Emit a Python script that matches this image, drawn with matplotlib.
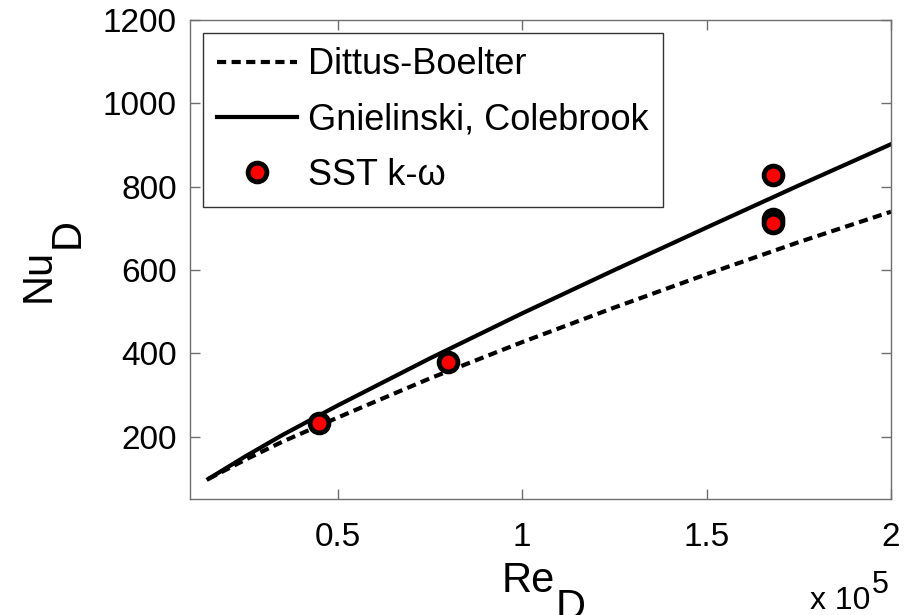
import matplotlib
matplotlib.use("Agg")
import matplotlib.pyplot as plt

# ----------------------------
# Data (Re in units of 1e5)
# ----------------------------

re_line = [0.15, 0.25, 0.35, 0.5, 0.75, 1.0, 1.25, 1.5, 1.75, 2.0]
nu_dittus = [99, 145, 188, 246, 340, 427, 510, 590, 667, 740]
nu_gnielinski = [99, 153, 204, 275, 388, 496, 600, 702, 803, 902]

re_sst = [0.45, 0.80, 1.68, 1.68, 1.68]
nu_sst = [233, 380, 828, 722, 714]

xticks = [0.5, 1, 1.5, 2]
xtick_labels = ["0.5", "1", "1.5", "2"]
yticks = [200, 400, 600, 800, 1000, 1200]

plt.rcParams["font.family"] = ["Liberation Sans", "DejaVu Sans"]

W, H = 906, 615
axis_grey = "#6e6e6e"


def px(x, y):
    # pixel position (from top-left) -> figure fraction
    return x / W, 1 - y / H


fig = plt.figure(figsize=(W / 100, H / 100), dpi=100)
ax = fig.add_axes([190 / W, 1 - 499.3 / H, 701 / W, 479.3 / H])

ax.plot(re_line, nu_dittus, color="black", linewidth=3,
        linestyle=(0, (2.2, 1.3)), label="Dittus-Boelter")
ax.plot(re_line, nu_gnielinski, color="black", linewidth=3,
        label="Gnielinski, Colebrook")
ax.plot(re_sst, nu_sst, linestyle="none", marker="o", markersize=13.5,
        markerfacecolor="red", markeredgecolor="black", markeredgewidth=3.5,
        label="SST k-\u03c9")

ax.set_xlim(0.1, 2)
ax.set_ylim(50, 1200)
ax.set_xticks(xticks)
ax.set_xticklabels(xtick_labels)
ax.set_yticks(yticks)

ax.tick_params(direction="in", length=7, width=1, color=axis_grey,
               top=True, right=True, labelsize=24, labelcolor="black")
ax.tick_params(axis="x", pad=16)
ax.tick_params(axis="y", pad=9.5)

for sp in ax.spines.values():
    sp.set_color(axis_grey)
    sp.set_linewidth(1)

# axis labels, MATLAB style (subscript same size, just lowered)
fig.text(*px(502, 592), "Re", fontsize=30, ha="left", va="baseline")
fig.text(*px(556, 619), "D", fontsize=30, ha="left", va="baseline")

fig.text(*px(50, 302), "Nu", fontsize=30, rotation=90,
         rotation_mode="anchor", ha="left", va="baseline")
fig.text(*px(79, 248), "D", fontsize=30, rotation=90,
         rotation_mode="anchor", ha="left", va="baseline")

# exponent of the x axis
fig.text(*px(810, 609), "x 10", fontsize=23, ha="left", va="baseline")
fig.text(*px(872, 593), "5", fontsize=22, ha="left", va="baseline")

leg = ax.legend(loc="upper left", bbox_to_anchor=(0.0185, 0.973),
                borderaxespad=0, fontsize=26, numpoints=1,
                handlelength=2.2, handletextpad=0.3, labelspacing=0.56,
                borderpad=0.4, fancybox=False, framealpha=1)
leg.get_frame().set_edgecolor("#333333")
leg.get_frame().set_linewidth(1)

fig.savefig("out.png", dpi=100)
